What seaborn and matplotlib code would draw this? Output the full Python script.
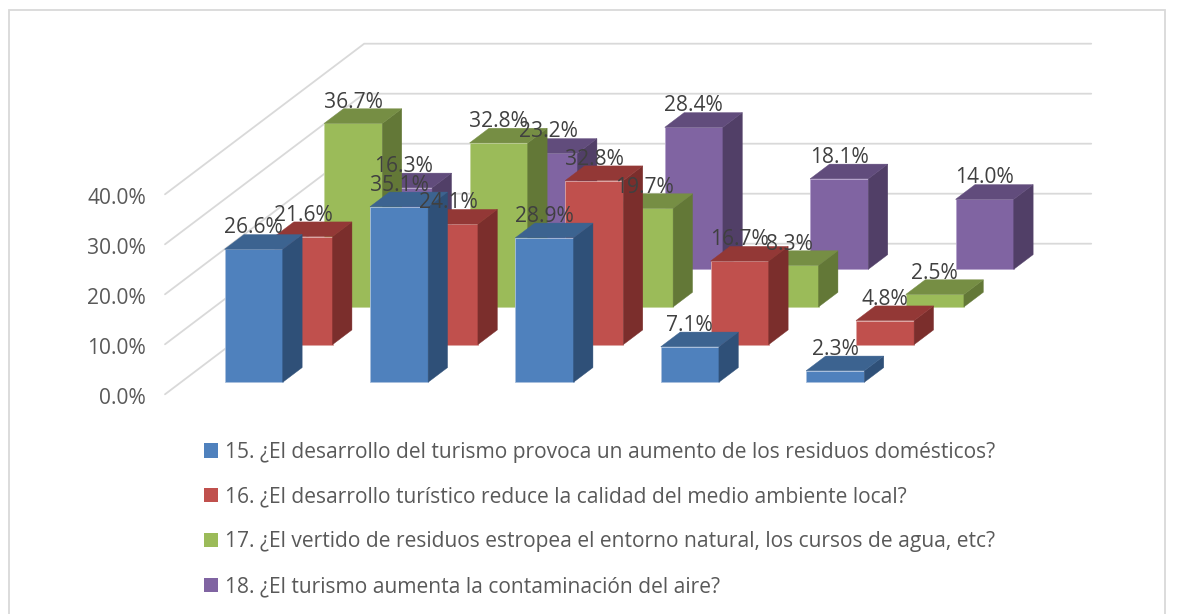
import pandas as pd
import seaborn as sns
import matplotlib.pyplot as plt
from matplotlib.patches import Patch, Rectangle
from matplotlib.transforms import Affine2D

# Values (percent)
categories = ['A', 'B', 'C', 'D', 'E']
q15 = [26.6, 35.1, 28.9, 7.1, 2.3]
q16 = [21.6, 24.1, 32.8, 16.7, 4.8]
q17 = [36.7, 32.8, 19.7, 8.3, 2.5]
q18 = [16.3, 23.2, 28.4, 18.1, 14.0]
series_values = [q15, q16, q17, q18]
series_names = [
    '15. ¿El desarrollo del turismo provoca un aumento de los residuos domésticos?',
    '16. ¿El desarrollo turístico reduce la calidad del medio ambiente local?',
    '17. ¿El vertido de residuos estropea el entorno natural, los cursos de agua, etc?',
    '18. ¿El turismo aumenta la contaminación del aire?',
]
front_colors = ['#4F81BD', '#C0504D', '#9BBB59', '#8064A2']
side_colors = ['#2F5078', '#7B2E2C', '#637837', '#513F67']
top_colors = ['#3C6390', '#933836', '#768E44', '#614C7C']
edge_colors = ['#A9C0DE', '#DDA5A3', '#C5D79F', '#B5A3CC']
y_ticks = [0, 10, 20, 30, 40]

# Oblique projection: one series step of depth in data units (cats, percent)
DX = 0.3425
DY = 7.53
BAR_W = 0.4
BAR_D = 0.39
FIRST = 0.32
TEXT = '#595959'
FONT = 15.1


def project(cat, value, depth):
    return cat + DX * depth, value + DY * depth


sns.set_theme(style='white')
plt.rcParams['font.family'] = ['Open Sans', 'DejaVu Sans']

fig = plt.figure(figsize=(11.79, 6.14), dpi=100)
ax = fig.add_axes([165 / 1179, (614 - 394.3) / 614, 727 / 1179, 200 / 614])

# Chart frame, open at the bottom like the crop
fig.add_artist(Rectangle((9 / 1179, -0.05), (1165 - 9) / 1179, 1.05 - 10 / 614,
                         transform=fig.transFigure, fill=False,
                         edgecolor='#D9D9D9', lw=1.3))

# Walls
for t in y_ticks:
    xs, ys = zip(project(-0.5, t, 0), project(-0.5, t, 4), project(4.5, t, 4))
    ax.plot(xs, ys, color='#D9D9D9', lw=1.3, clip_on=False, zorder=1)

# Back series first so the front ones cover them
for s in reversed(range(4)):
    z = 10 - s
    d0 = FIRST + s
    d1 = d0 + BAR_D
    df = pd.DataFrame({'cat': categories, 'value': series_values[s]})
    shift = Affine2D().translate(DX * d0, DY * d0) + ax.transData
    sns.barplot(data=df, x='cat', y='value', order=categories, color=front_colors[s],
                saturation=1, width=BAR_W, errorbar=None, ax=ax, transform=shift,
                clip_on=False, zorder=z, edgecolor=edge_colors[s], linewidth=0.6)
    for i, v in enumerate(series_values[s]):
        left = i - BAR_W / 2
        right = i + BAR_W / 2
        side = [project(right, 0, d0), project(right, v, d0),
                project(right, v, d1), project(right, 0, d1)]
        top = [project(left, v, d0), project(right, v, d0),
               project(right, v, d1), project(left, v, d1)]
        ax.fill(*zip(*side), color=side_colors[s], lw=0.3, clip_on=False, zorder=z)
        ax.fill(*zip(*top), color=top_colors[s], lw=0.3, clip_on=False, zorder=z)

# Data labels sit on top of everything
for s in range(4):
    for i, v in enumerate(series_values[s]):
        ax.annotate(f'{v:.1f}%', project(i, v, FIRST + s), xytext=(0, 11.4),
                    textcoords='offset points', ha='center', va='baseline',
                    fontsize=FONT, color='#404040', zorder=30, annotation_clip=False)

ax.set_xlim(-0.5, 4.5)
ax.set_ylim(0, 40)
ax.set_xlabel('')
ax.set_ylabel('')
ax.set_xticks([])
ax.set_yticks(y_ticks)
ax.set_yticklabels([f'{t:.1f}%' for t in y_ticks], fontsize=FONT, color=TEXT)
ax.tick_params(axis='y', length=0, pad=13.5)
for lab in ax.get_yticklabels():
    lab.set_transform(lab.get_transform() + Affine2D().translate(0, -1.5))
sns.despine(ax=ax, left=True, bottom=True)
ax.patch.set_visible(False)

handles = [Patch(facecolor=c, edgecolor='none') for c in front_colors]
fig.legend(handles, series_names, loc='upper left',
           bbox_to_anchor=(185.5 / 1179, 1 - 423 / 614), frameon=False,
           fontsize=FONT, labelcolor=TEXT, handlelength=0.66, handleheight=0.66,
           handletextpad=0.3, labelspacing=1.13)

fig.savefig('out.png', dpi=100)
